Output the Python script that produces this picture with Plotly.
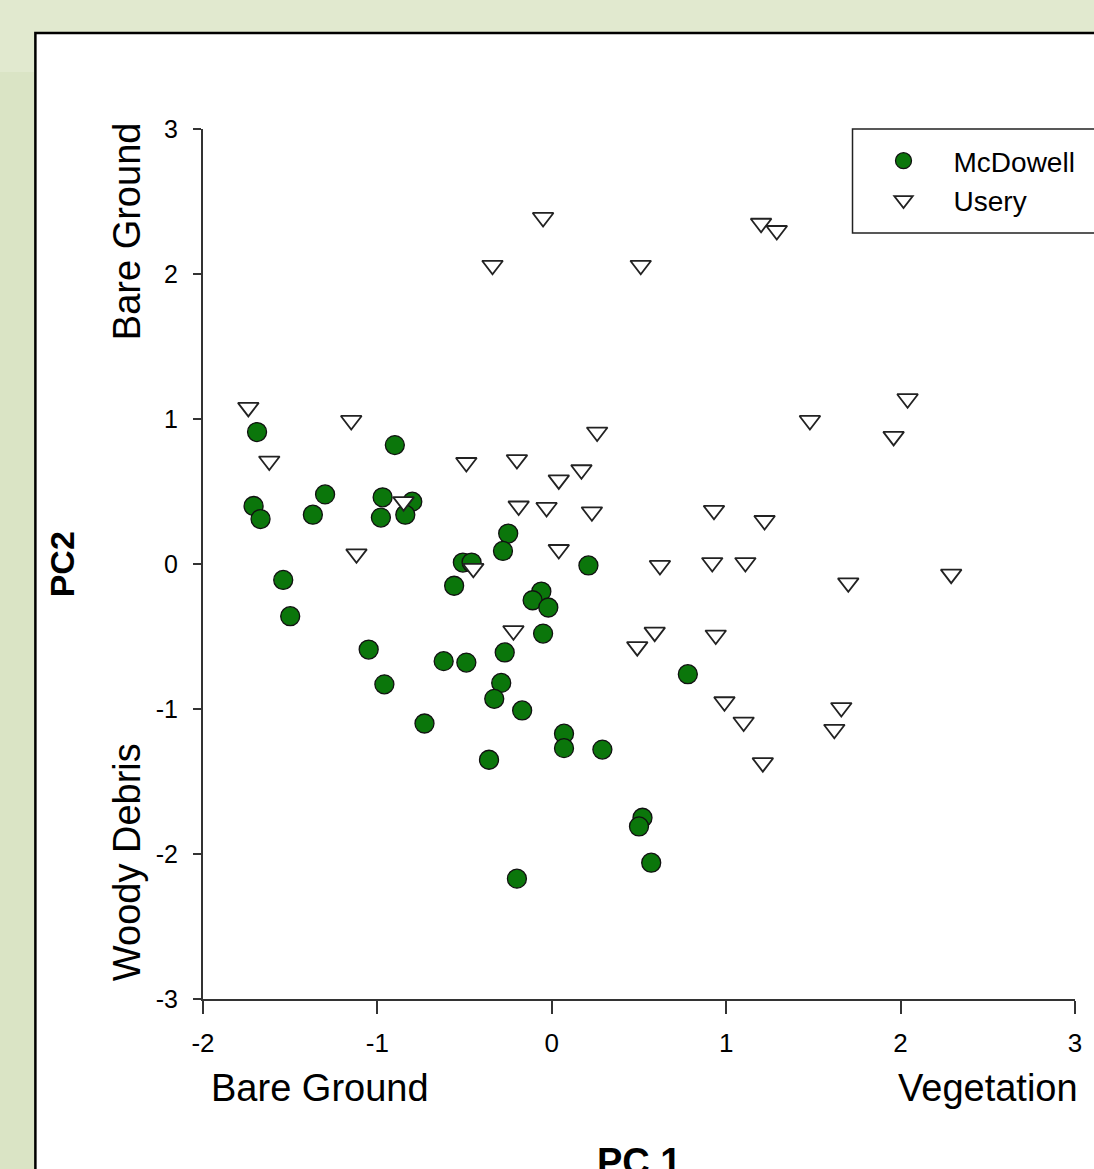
import plotly.graph_objects as go

# ---------------- data ----------------
mcdowell_pc1 = [-1.69, -1.71, -1.67, -1.30, -1.37, -0.90, -0.97, -0.98, -0.80, -0.84,
                -1.54, -1.50, -1.05, -0.96, -0.73, -0.62, -0.49, -0.51, -0.46, -0.56,
                -0.25, -0.28, -0.06, -0.11, -0.02, -0.05, 0.21, -0.27, -0.29, -0.33,
                -0.17, -0.36, 0.07, 0.07, 0.29, 0.52, 0.50, 0.57, -0.20, 0.78]
mcdowell_pc2 = [0.91, 0.40, 0.31, 0.48, 0.34, 0.82, 0.46, 0.32, 0.43, 0.34,
                -0.11, -0.36, -0.59, -0.83, -1.10, -0.67, -0.68, 0.01, 0.01, -0.15,
                0.21, 0.09, -0.19, -0.25, -0.30, -0.48, -0.01, -0.61, -0.82, -0.93,
                -1.01, -1.35, -1.17, -1.27, -1.28, -1.75, -1.81, -2.06, -2.17, -0.76]

usery_pc1 = [-0.05, -0.34, 0.51, 1.20, 1.29, 2.04, 1.48, 1.96, 0.93, 1.22,
             0.62, 0.92, 1.11, 1.70, 2.29, 0.59, 0.49, 0.94, 0.99, 1.10,
             1.21, 1.66, 1.62, 0.26, -0.49, -0.20, 0.17, 0.04, -0.19, -0.03,
             0.23, 0.04, -0.45, -0.22, -1.74, -1.62, -1.15, -1.12, -0.85]
usery_pc2 = [2.39, 2.06, 2.06, 2.35, 2.30, 1.14, 0.99, 0.88, 0.37, 0.30,
             -0.01, 0.01, 0.01, -0.13, -0.07, -0.47, -0.57, -0.49, -0.95, -1.09,
             -1.37, -0.99, -1.14, 0.91, 0.70, 0.72, 0.65, 0.58, 0.40, 0.39,
             0.36, 0.10, -0.03, -0.46, 1.08, 0.71, 0.99, 0.07, 0.43]

x_tick_vals = [-2, -1, 0, 1, 2, 3]
x_tick_text = ["-2", "-1", "0", "1", "2", "3"]
y_tick_vals = [-3, -2, -1, 0, 1, 2, 3]
y_tick_text = ["-3", "-2", "-1", "0", "1", "2", "3"]

# ---------------- layout geometry ----------------
W, H = 1094, 1169
L, R, T, B = 203, 1077, 129, 999   # plot-area pixel box
FONT = "Liberation Sans, Arial, sans-serif"


def px(xp):
    return (xp - L) / (R - L)


def py(yp):
    return (B - yp) / (B - T)


fig = go.Figure()

fig.add_trace(go.Scatter(
    x=mcdowell_pc1, y=mcdowell_pc2, mode="markers", name="McDowell",
    marker=dict(symbol="circle", size=19, color="#0b760b",
                line=dict(color="#111111", width=1.3)),
))
fig.add_trace(go.Scatter(
    x=usery_pc1, y=usery_pc2, mode="markers", name="Usery",
    marker=dict(symbol="triangle-down", size=18, color="white",
                line=dict(color="#222222", width=1.8)),
))

shapes = [
    # slightly darker strip at far left
    dict(type="rect", xref="paper", yref="paper", layer="below",
         x0=px(-5), x1=px(34), y0=py(1175), y1=py(72),
         fillcolor="#dae4c5", line=dict(width=0)),
    # white panel with black border
    dict(type="rect", xref="paper", yref="paper", layer="below",
         x0=px(35), x1=px(1120), y0=py(1190), y1=py(33),
         fillcolor="white", line=dict(color="black", width=2.5)),
    # legend box
    dict(type="rect", xref="paper", yref="paper", layer="below",
         x0=px(854), x1=px(1120), y0=py(233), y1=py(129),
         fillcolor="white", line=dict(color="#222222", width=1.5)),
]

annotations = [
    dict(text="Bare Ground", xref="paper", yref="paper", x=px(209), y=py(1088),
         xanchor="left", yanchor="middle", showarrow=False,
         font=dict(family=FONT, size=38, color="black")),
    dict(text="Vegetation", xref="paper", yref="paper", x=px(1082), y=py(1088),
         xanchor="right", yanchor="middle", showarrow=False,
         font=dict(family=FONT, size=38, color="black")),
    dict(text="Bare Ground", xref="paper", yref="paper", x=px(127), y=py(231),
         xanchor="center", yanchor="middle", textangle=-90, showarrow=False,
         font=dict(family=FONT, size=38, color="black")),
    dict(text="Woody Debris", xref="paper", yref="paper", x=px(127), y=py(862),
         xanchor="center", yanchor="middle", textangle=-90, showarrow=False,
         font=dict(family=FONT, size=38, color="black")),
    dict(text="<b>PC2</b>", xref="paper", yref="paper", x=px(62), y=py(564),
         xanchor="center", yanchor="middle", textangle=-90, showarrow=False,
         font=dict(family=FONT, size=34, color="black")),
    dict(text="<b>PC 1</b>", xref="paper", yref="paper", x=px(640), y=py(1162),
         xanchor="center", yanchor="middle", showarrow=False,
         font=dict(family=FONT, size=38, color="black")),
]

fig.update_layout(
    width=W, height=H,
    margin=dict(l=L, r=W - R, t=T, b=H - B, pad=0),
    paper_bgcolor="#e1e9cf",
    plot_bgcolor="rgba(0,0,0,0)",
    font=dict(family=FONT, color="black"),
    showlegend=True,
    legend=dict(x=px(855), y=py(136), xanchor="left", yanchor="top",
                bgcolor="rgba(0,0,0,0)", borderwidth=0,
                font=dict(family=FONT, size=28, color="black"),
                itemwidth=90, tracegroupgap=0),
    shapes=shapes,
    annotations=annotations,
    xaxis=dict(range=[-2, 3], tickmode="array", tickvals=x_tick_vals, ticktext=x_tick_text,
               showgrid=False, zeroline=False, showline=True, linecolor="#333333", linewidth=2,
               ticks="outside", ticklen=13, tickwidth=1.5, tickcolor="#333333",
               ticklabelstandoff=7, tickfont=dict(family=FONT, size=26, color="black")),
    yaxis=dict(range=[-3, 3], tickmode="array", tickvals=y_tick_vals, ticktext=y_tick_text,
               showgrid=False, zeroline=False, showline=True, linecolor="#333333", linewidth=2,
               ticks="outside", ticklen=8, tickwidth=1.5, tickcolor="#333333",
               ticklabelstandoff=10, tickfont=dict(family=FONT, size=25, color="black")),
)

fig.write_html(
    "out.html",
    config={"displayModeBar": False},
    post_script="document.body.style.margin='0px';document.body.style.overflow='hidden';",
)
